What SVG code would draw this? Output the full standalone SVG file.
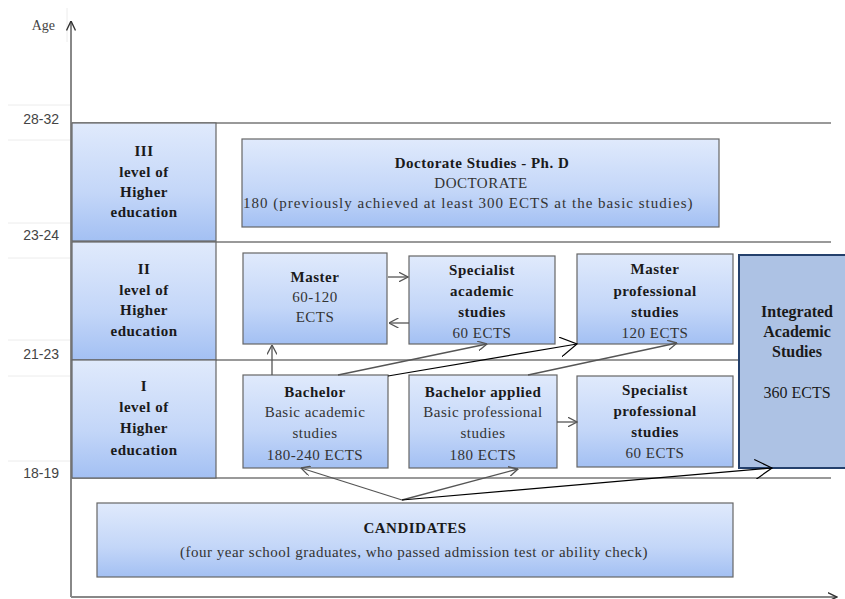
<svg xmlns="http://www.w3.org/2000/svg" width="845" height="599" viewBox="0 0 845 599" font-family="Liberation Serif, Times New Roman, serif">
<defs>
<linearGradient id="bx" x1="0" y1="0" x2="0" y2="1">
<stop offset="0" stop-color="#e0eafc"/>
<stop offset="0.6" stop-color="#c3d6f8"/>
<stop offset="1" stop-color="#a3c0f3"/>
</linearGradient>
<marker id="ag" viewBox="0 0 10 10" refX="9.5" refY="5" markerWidth="10" markerHeight="10" markerUnits="userSpaceOnUse" orient="auto">
<path d="M0,0 L9.5,5 L0,10" fill="none" stroke="#555" stroke-width="1.3"/>
</marker>
<marker id="ab" viewBox="0 0 18 20" refX="17" refY="10" markerWidth="18" markerHeight="20" markerUnits="userSpaceOnUse" orient="auto">
<path d="M0,0 L17,10 L0,20" fill="none" stroke="#000" stroke-width="1.2"/>
</marker>
<marker id="ax" viewBox="0 0 10 10" refX="9.5" refY="5" markerWidth="10" markerHeight="10" markerUnits="userSpaceOnUse" orient="auto">
<path d="M0,0.5 L9.5,5 L0,9.5" fill="none" stroke="#333" stroke-width="1.4"/>
</marker>
</defs>
<style>
.box{fill:url(#bx);stroke:#666;stroke-width:1.2}
.t{font-size:15px;fill:#333;text-anchor:middle;letter-spacing:0.5px}
.b{font-weight:bold;fill:#1a1a1a}
.it{font-size:16px;fill:#1a1a1a;text-anchor:middle}
.age{font-size:14px;fill:#444;text-anchor:end}
.grid{stroke:#999;stroke-width:2;fill:none}
.faint{stroke:#ececec;stroke-width:1;fill:none}
.cg{stroke:#555;stroke-width:1.3;fill:none;marker-end:url(#ag)}
.cb{stroke:#000;stroke-width:1.2;fill:none;marker-end:url(#ab)}
</style>
<rect width="845" height="599" fill="#fff"/>

<g id="age-scale">
<line class="faint" x1="8" y1="105" x2="70" y2="105"/>
<line class="faint" x1="8" y1="140" x2="70" y2="140"/>
<line class="faint" x1="8" y1="223" x2="70" y2="223"/>
<line class="faint" x1="8" y1="258" x2="70" y2="258"/>
<line class="faint" x1="8" y1="340" x2="70" y2="340"/>
<line class="faint" x1="8" y1="376" x2="70" y2="376"/>
<line class="faint" x1="8" y1="461" x2="70" y2="461"/>
<line class="faint" x1="67" y1="8" x2="67" y2="42"/>
<text x="55" y="30" font-size="14" fill="#444" text-anchor="end">Age</text>
<g font-family="Liberation Sans, Arial, sans-serif">
<text class="age" x="59" y="124">28-32</text>
<text class="age" x="59" y="240">23-24</text>
<text class="age" x="59" y="359">21-23</text>
<text class="age" x="59" y="478">18-19</text>
</g>
</g>

<g id="grid">
<line class="grid" x1="71" y1="123" x2="831" y2="123"/>
<line class="grid" x1="71" y1="242" x2="831" y2="242"/>
<line class="grid" x1="71" y1="360" x2="831" y2="360"/>
<line class="grid" x1="71" y1="478" x2="831" y2="478"/>
</g>

<g id="axes">
<line x1="71" y1="597" x2="71" y2="21" stroke="#888" stroke-width="2" marker-end="url(#ax)"/>
<line x1="71" y1="597" x2="837" y2="597" stroke="#888" stroke-width="2" marker-end="url(#ax)"/>
</g>

<g id="level-III">
<rect class="box" x="72" y="123" width="144" height="118"/>
<text class="t b" x="144" y="156">III</text>
<text class="t b" x="144" y="177">level of</text>
<text class="t b" x="144" y="197">Higher</text>
<text class="t b" x="144" y="217">education</text>
</g>
<g id="level-II">
<rect class="box" x="72" y="242" width="144" height="118"/>
<text class="t b" x="144" y="274">II</text>
<text class="t b" x="144" y="295">level of</text>
<text class="t b" x="144" y="315">Higher</text>
<text class="t b" x="144" y="336">education</text>
</g>
<g id="level-I">
<rect class="box" x="72" y="360" width="144" height="118"/>
<text class="t b" x="144" y="391">I</text>
<text class="t b" x="144" y="412">level of</text>
<text class="t b" x="144" y="433">Higher</text>
<text class="t b" x="144" y="455">education</text>
</g>

<g id="doctorate">
<rect class="box" x="242" y="139" width="477" height="88"/>
<text class="t b" x="482" y="168">Doctorate Studies - Ph. D</text>
<text class="t" x="481" y="188">DOCTORATE</text>
<text class="t" x="468" y="208" textLength="450" lengthAdjust="spacing">180 (previously achieved at least 300 ECTS at the basic studies)</text>
</g>

<g id="master">
<rect class="box" x="243" y="253" width="144" height="91"/>
<text class="t b" x="315" y="282">Master</text>
<text class="t" x="315" y="302">60-120</text>
<text class="t" x="315" y="322">ECTS</text>
</g>

<g id="specialist-academic">
<rect class="box" x="409" y="256" width="146" height="88"/>
<text class="t b" x="482" y="275">Specialist</text>
<text class="t b" x="482" y="296">academic</text>
<text class="t b" x="482" y="317">studies</text>
<text class="t" x="482" y="338">60 ECTS</text>
</g>

<g id="master-professional">
<rect class="box" x="577" y="254" width="156" height="90"/>
<text class="t b" x="655" y="274">Master</text>
<text class="t b" x="655" y="296">professional</text>
<text class="t b" x="655" y="317">studies</text>
<text class="t" x="655" y="338">120 ECTS</text>
</g>

<g id="integrated">
<rect x="739" y="255" width="120" height="213" fill="#adc2e4" stroke="#24406c" stroke-width="2"/>
<text class="it b" x="797" y="317">Integrated</text>
<text class="it b" x="797" y="337">Academic</text>
<text class="it b" x="797" y="357">Studies</text>
<text class="it" x="797" y="398">360 ECTS</text>
</g>

<g id="bachelor">
<rect class="box" x="243" y="375" width="145" height="93"/>
<text class="t b" x="315" y="397">Bachelor</text>
<text class="t" x="315" y="417">Basic academic</text>
<text class="t" x="315" y="438">studies</text>
<text class="t" x="315" y="460">180-240 ECTS</text>
</g>

<g id="bachelor-applied">
<rect class="box" x="409" y="375" width="148" height="93"/>
<text class="t b" x="483" y="397">Bachelor applied</text>
<text class="t" x="483" y="417">Basic professional</text>
<text class="t" x="483" y="438">studies</text>
<text class="t" x="483" y="460">180 ECTS</text>
</g>

<g id="specialist-professional">
<rect class="box" x="577" y="376" width="156" height="91"/>
<text class="t b" x="655" y="395">Specialist</text>
<text class="t b" x="655" y="416">professional</text>
<text class="t b" x="655" y="437">studies</text>
<text class="t" x="655" y="458">60 ECTS</text>
</g>

<g id="candidates">
<rect class="box" x="97" y="503" width="636" height="74"/>
<text class="t b" x="415" y="533">CANDIDATES</text>
<text class="t" x="414" y="557">(four year school graduates, who passed admission test or ability check)</text>
</g>

<g id="connectors">
<line class="cg" x1="388" y1="277" x2="408" y2="277"/>
<line class="cg" x1="409" y1="323" x2="389" y2="323"/>
<line class="cg" x1="272" y1="375" x2="272" y2="345"/>
<line class="cg" x1="338" y1="375" x2="487" y2="344"/>
<line class="cb" x1="388" y1="376" x2="577" y2="344"/>
<line class="cg" x1="528" y1="375" x2="677" y2="343"/>
<line class="cg" x1="557" y1="422" x2="577" y2="422"/>
<line class="cg" x1="402" y1="500" x2="301" y2="468"/>
<line class="cg" x1="402" y1="500" x2="518" y2="469"/>
<line class="cb" x1="402" y1="500" x2="772" y2="468"/>
</g>
</svg>
